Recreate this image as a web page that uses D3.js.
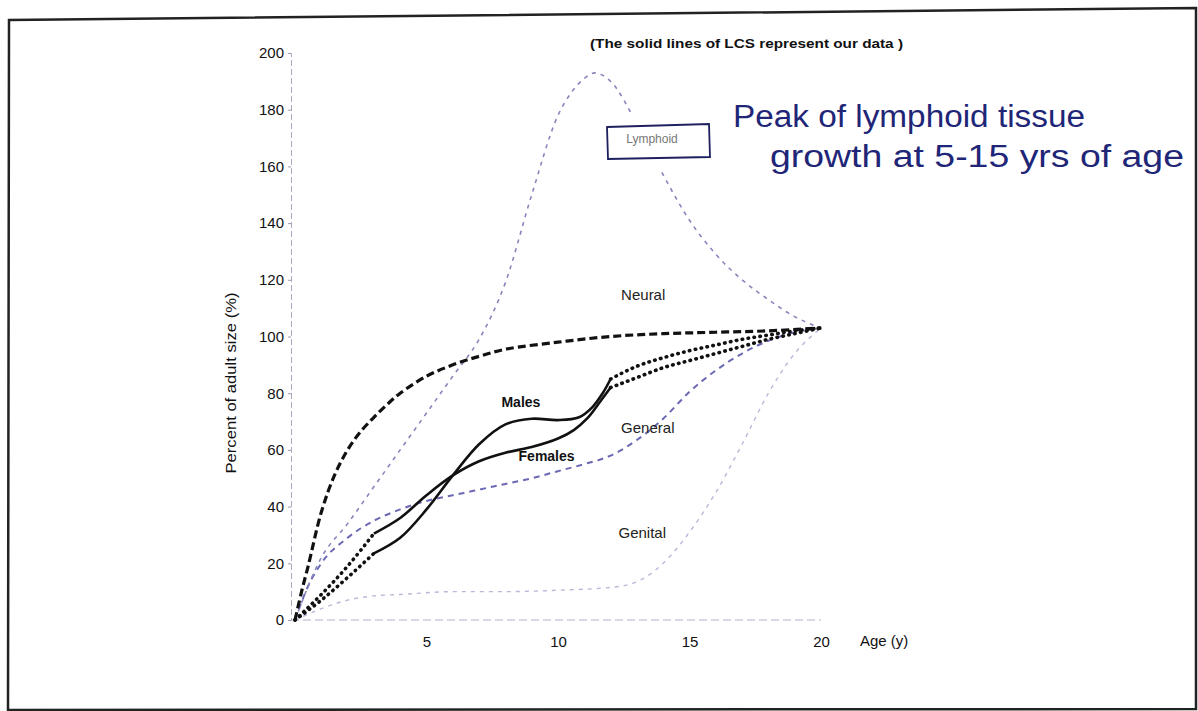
<!DOCTYPE html>
<html>
<head>
<meta charset="utf-8">
<script src="https://cdn.jsdelivr.net/npm/d3@7"></script>
<style>
  html, body { margin: 0; padding: 0; background: #fff; }
  svg { display: block; }
  text { font-family: "Liberation Sans", Arial, sans-serif; }
</style>
</head>
<body>
<svg id="chart" width="1198" height="711"></svg>
<script>
// ---------- data ----------
const xTicks = [5, 10, 15, 20];
const yTicks = [0, 20, 40, 60, 80, 100, 120, 140, 160, 180, 200];

const lymphoidAge = [0, 1, 2, 3, 4, 5, 6, 7, 8, 9, 10, 10.5, 11, 11.4, 12, 13, 14, 15, 16, 17, 18, 19, 20];
const lymphoidVal = [0, 22, 34, 47, 60, 73, 86, 99, 119, 150, 178, 186, 191, 193, 190, 175, 157, 141, 129, 120, 113, 107, 103];

const neuralAge = [0, 0.25, 0.5, 1, 1.5, 2, 2.5, 3, 3.5, 4, 5, 6, 7, 8, 10, 12, 14, 16, 18, 20];
const neuralVal = [0, 10, 19, 38, 51, 60, 66.5, 71.5, 76, 80, 86, 90, 93, 95.5, 98, 100, 101, 101.5, 102, 103];

const generalAge = [0, 0.5, 1, 2, 3, 4, 5, 6, 7, 8, 9, 10, 11, 12, 13, 14, 15, 16, 17, 18, 19, 20];
const generalVal = [0, 12, 20, 29, 35, 39, 42, 44, 46, 48, 50, 52.5, 55, 58, 63.5, 71, 80.5, 88, 94, 98.5, 101.5, 103];

const genitalAge = [0, 1, 2, 3, 4, 6, 8, 10, 12, 13, 14, 15, 16, 17, 18, 19, 20];
const genitalVal = [0, 4, 7, 8.5, 9, 10, 10, 10.5, 11.5, 13.5, 20, 31, 45, 62, 80, 94, 103];

const malesAge = [3, 4, 5, 6, 7, 8, 9, 10, 10.8, 11.3, 11.7, 12];
const malesVal = [23.5, 29, 39, 51, 62, 69, 71, 70.5, 71.5, 75, 80, 85];
const femalesAge = [3, 4, 5, 6, 7, 8, 9, 10, 10.6, 11.1, 11.6, 12];
const femalesVal = [30.5, 36, 44, 51, 56, 59, 61, 64, 67, 71, 77, 82];

const malesEarlyAge = [0, 1, 2, 3];
const malesEarlyVal = [0, 7, 15, 23.5];
const femalesEarlyAge = [0, 1, 2, 3];
const femalesEarlyVal = [0, 9, 19, 30.5];
const malesLateAge = [12, 13, 14, 15, 16, 17, 18, 19, 20];
const malesLateVal = [85, 89.5, 92.5, 95, 97, 99, 100.5, 102, 103];
const femalesLateAge = [12, 13, 14, 15, 16, 17, 18, 19, 20];
const femalesLateVal = [82, 85.5, 89, 91.5, 94, 96.5, 99, 101, 103];

const curveLabels = ["Neural", "General", "Genital"];
const curveLabelAge = [12.4, 12.4, 12.3];
const curveLabelVal = [113, 66, 29];
const sexLabels = ["Males", "Females"];
const sexLabelAge = [7.85, 8.5];
const sexLabelVal = [75, 56];

const titleText = "(The solid lines of LCS represent our data )";
const noteLines = ["Peak of lymphoid tissue", "growth at 5-15 yrs of age"];

// ---------- drawing ----------
const svg = d3.select("#chart");
const x = d3.scaleLinear().domain([0, 20]).range([295, 821]);
const y = d3.scaleLinear().domain([0, 200]).range([620, 53]);

const zip = (a, b) => a.map((d, i) => [d, b[i]]);
const line = d3.line().x(d => x(d[0])).y(d => y(d[1])).curve(d3.curveMonotoneX);
const smooth = d3.line().x(d => x(d[0])).y(d => y(d[1])).curve(d3.curveCatmullRom.alpha(0.5));

// photo frame
svg.append("path")
  .attr("d", "M9,20 L1196,8 L1196,709 L8,710 Z")
  .attr("fill", "none").attr("stroke", "#222").attr("stroke-width", 2.5);

// y axis (faint dashed line)
const yAxis = d3.axisLeft(y).tickValues(yTicks).tickSize(3).tickPadding(4);
const gy = svg.append("g").attr("transform", "translate(291,0)").call(yAxis);
gy.select(".domain").attr("stroke", "#a8a8c0").attr("stroke-width", 1).attr("stroke-dasharray", "6,3");
gy.selectAll(".tick line").attr("stroke", "#9a9ab0");
gy.selectAll(".tick text").attr("font-size", 15).attr("fill", "#111")
  .attr("font-family", "Liberation Sans, Arial, sans-serif");

// x axis
const xAxis = d3.axisBottom(x).tickValues(xTicks).tickSize(0).tickPadding(16);
const gx = svg.append("g").attr("transform", "translate(0,620)").call(xAxis);
gx.select(".domain").attr("d", `M${x(0) - 4},0H${x(20)}`)
  .attr("stroke", "#b4b4cc").attr("stroke-width", 1).attr("stroke-dasharray", "8,4");
gx.selectAll(".tick text").attr("font-size", 15).attr("fill", "#111")
  .attr("font-family", "Liberation Sans, Arial, sans-serif");

svg.append("text").attr("x", 860).attr("y", 646).attr("font-size", 15).attr("fill", "#111")
  .text("Age (y)");

svg.append("text")
  .attr("transform", "translate(236,383) rotate(-90)")
  .attr("text-anchor", "middle").attr("font-size", 14).attr("fill", "#111")
  .attr("textLength", 181).attr("lengthAdjust", "spacingAndGlyphs")
  .text("Percent of adult size (%)");

svg.append("text").attr("x", 590).attr("y", 48).attr("font-size", 13).attr("font-weight", "bold")
  .attr("fill", "#111").attr("textLength", 313).attr("lengthAdjust", "spacingAndGlyphs")
  .text(titleText);

// reference curves
const refs = [
  {a: genitalAge, v: genitalVal, c: "#b9b9d9", w: 1.4, d: "4,5", g: line},
  {a: generalAge, v: generalVal, c: "#6b69b3", w: 2, d: "6,5", g: line},
  {a: lymphoidAge, v: lymphoidVal, c: "#8886bd", w: 1.6, d: "4,5", g: line},
  {a: neuralAge, v: neuralVal, c: "#111", w: 3.2, d: "8,4", g: smooth}
];
refs.forEach(r => {
  svg.append("path").datum(zip(r.a, r.v)).attr("d", r.g)
    .attr("fill", "none").attr("stroke", r.c).attr("stroke-width", r.w)
    .attr("stroke-dasharray", r.d);
});

// LCS dotted extensions
[[malesEarlyAge, malesEarlyVal], [femalesEarlyAge, femalesEarlyVal],
 [malesLateAge, malesLateVal], [femalesLateAge, femalesLateVal]].forEach(p => {
  svg.append("path").datum(zip(p[0], p[1])).attr("d", line)
    .attr("fill", "none").attr("stroke", "#111").attr("stroke-width", 3.6)
    .attr("stroke-linecap", "round").attr("stroke-dasharray", "0.5,5.5");
});
// LCS solid data
[[malesAge, malesVal], [femalesAge, femalesVal]].forEach(p => {
  svg.append("path").datum(zip(p[0], p[1])).attr("d", smooth)
    .attr("fill", "none").attr("stroke", "#111").attr("stroke-width", 2.6);
});

// curve labels
curveLabels.forEach((t, i) => {
  svg.append("text").attr("x", x(curveLabelAge[i])).attr("y", y(curveLabelVal[i]))
    .attr("font-size", 15).attr("fill", "#222").text(t);
});
sexLabels.forEach((t, i) => {
  svg.append("text").attr("x", x(sexLabelAge[i])).attr("y", y(sexLabelVal[i]))
    .attr("font-size", 14).attr("font-weight", "bold").attr("fill", "#111").text(t);
});

// Lymphoid label with hand-drawn box (white background hides the curve)
svg.append("rect").attr("x", 596).attr("y", 112).attr("width", 124).attr("height", 58)
  .attr("fill", "#fff");
svg.append("path").attr("d", "M607,127 L709,124 L710,157 L608,159 Z")
  .attr("fill", "#fff").attr("stroke", "#1e2060").attr("stroke-width", 1.8);
svg.append("text").attr("x", 652).attr("y", 143).attr("text-anchor", "middle")
  .attr("font-size", 12).attr("fill", "#777").text("Lymphoid");

// handwritten note
const note = svg.append("g").attr("fill", "#1f2677")
  .attr("font-family", "'DejaVu Sans ExtraLight', 'Lato', 'Open Sans', sans-serif")
  .attr("font-weight", 200).attr("font-size", 31);
note.append("text").attr("x", 733).attr("y", 127).attr("textLength", 352)
  .attr("lengthAdjust", "spacingAndGlyphs").text(noteLines[0]);
note.append("text").attr("x", 770).attr("y", 167).attr("textLength", 414)
  .attr("lengthAdjust", "spacingAndGlyphs").text(noteLines[1]);
</script>
</body>
</html>
